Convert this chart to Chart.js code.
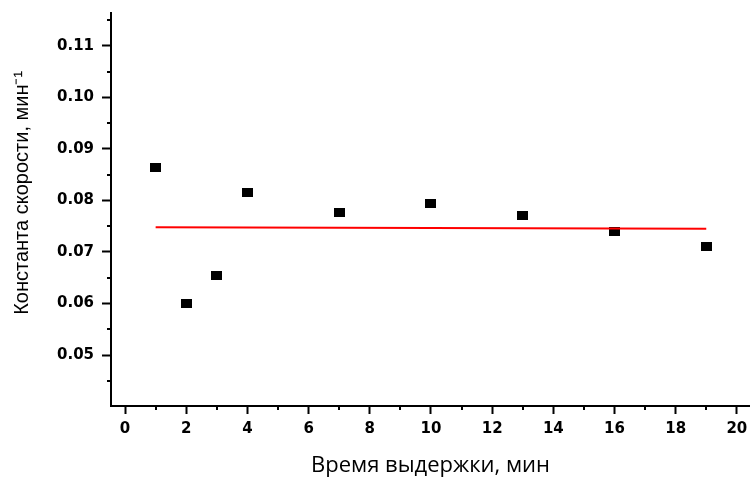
<!DOCTYPE html>
<html>
<head>
<meta charset="utf-8">
<script src="https://cdn.jsdelivr.net/npm/chart.js@4/dist/chart.umd.min.js"></script>
<style>
  html, body { margin: 0; padding: 0; background: #fff; }
  #c { display: block; }
</style>
</head>
<body>
<canvas id="c" width="750" height="479"></canvas>
<script>
// ---- data ----
const holdTimes = [1, 2, 3, 4, 7, 10, 13, 16, 19];             // min
const rateConstants = [0.0864, 0.0600, 0.0655, 0.0815, 0.0777, 0.0793, 0.0770, 0.0739, 0.0710];
const fitX = [1, 19];
const fitY = [0.0748, 0.0745];
const xAxisTitle = 'Время выдержки, мин';
const yAxisTitle = 'Константа скорости, мин\u207B\u00B9';

// marker: filled black rectangle
const marker = document.createElement('canvas');
marker.width = 11; marker.height = 9;
(function () { const m = marker.getContext('2d'); m.fillStyle = '#000'; m.fillRect(0, 0, 11, 9); })();

// minor ticks halfway between major ticks
const minorTicks = {
  id: 'minorTicks',
  afterDraw(chart) {
    const ctx = chart.ctx;
    const xs = chart.scales.x, ys = chart.scales.y;
    ctx.save();
    ctx.strokeStyle = '#000';
    ctx.lineWidth = 2;
    const xStep = xs.options.ticks.stepSize;
    for (let v = Math.ceil(xs.min / xStep) * xStep - xStep / 2; v <= xs.max; v += xStep) {
      if (v < xs.min) continue;
      const px = Math.round(xs.getPixelForValue(v));
      ctx.beginPath(); ctx.moveTo(px, xs.top); ctx.lineTo(px, xs.top + 4); ctx.stroke();
    }
    const yStep = ys.options.ticks.stepSize;
    for (let v = Math.ceil(ys.min / yStep) * yStep - yStep / 2; v <= ys.max + 1e-9; v += yStep) {
      if (v < ys.min) continue;
      const py = Math.round(ys.getPixelForValue(v));
      ctx.beginPath(); ctx.moveTo(ys.right, py); ctx.lineTo(ys.right - 4, py); ctx.stroke();
    }
    ctx.restore();
  }
};

new Chart(document.getElementById('c'), {
  type: 'scatter',
  data: {
    datasets: [
      {
        type: 'line',
        data: fitX.map((x, i) => ({ x, y: fitY[i] })),
        borderColor: '#ff0000',
        borderWidth: 2,
        pointRadius: 0,
        fill: false
      },
      {
        data: holdTimes.map((x, i) => ({ x, y: rateConstants[i] })),
        pointStyle: marker,
        pointRadius: 5,
        backgroundColor: '#000',
        borderColor: '#000'
      }
    ]
  },
  options: {
    responsive: false,
    animation: false,
    events: [],
    layout: { autoPadding: false, padding: { top: 13, left: 0, right: 0, bottom: 0 } },
    plugins: { legend: { display: false }, tooltip: { enabled: false } },
    scales: {
      x: {
        type: 'linear',
        min: -0.46,
        max: 20.43,
        afterFit(s) { s.height = 73; s.paddingLeft = 0; s.paddingRight = 0; },
        ticks: {
          stepSize: 2,
          includeBounds: false,
          color: '#000',
          padding: 6,
          maxRotation: 0,
          font: { family: 'DejaVu Sans', weight: 'bold', size: 15 }
        },
        grid: { drawOnChartArea: false, drawTicks: true, tickLength: 8, tickWidth: 2, tickColor: '#000' },
        border: { display: true, color: '#000', width: 2 },
        title: {
          display: true,
          text: xAxisTitle,
          color: '#000',
          padding: { top: 0, bottom: 0 },
          font: { family: 'Open Sans', size: 22, weight: 'normal' }
        }
      },
      y: {
        type: 'linear',
        min: 0.04011,
        max: 0.11635,
        afterFit(s) { s.width = 111; s.paddingTop = 0; s.paddingBottom = 0; },
        ticks: {
          stepSize: 0.01,
          includeBounds: false,
          color: '#000',
          padding: 8,
          callback: v => v.toFixed(2),
          font: { family: 'DejaVu Sans', weight: 'bold', size: 15 }
        },
        grid: { drawOnChartArea: false, drawTicks: true, tickLength: 9, tickWidth: 2, tickColor: '#000' },
        border: { display: true, color: '#000', width: 2 },
        title: {
          display: true,
          text: '      ' + yAxisTitle,
          color: '#000',
          padding: { top: 10, bottom: 0 },
          font: { family: 'Liberation Sans', size: 20, weight: 'normal' }
        }
      }
    }
  },
  plugins: [minorTicks, {
    id: 'bg',
    beforeDraw(chart) {
      const c = chart.ctx; c.save(); c.fillStyle = '#fff'; c.fillRect(0, 0, chart.width, chart.height); c.restore();
    }
  }]
});
</script>
</body>
</html>
